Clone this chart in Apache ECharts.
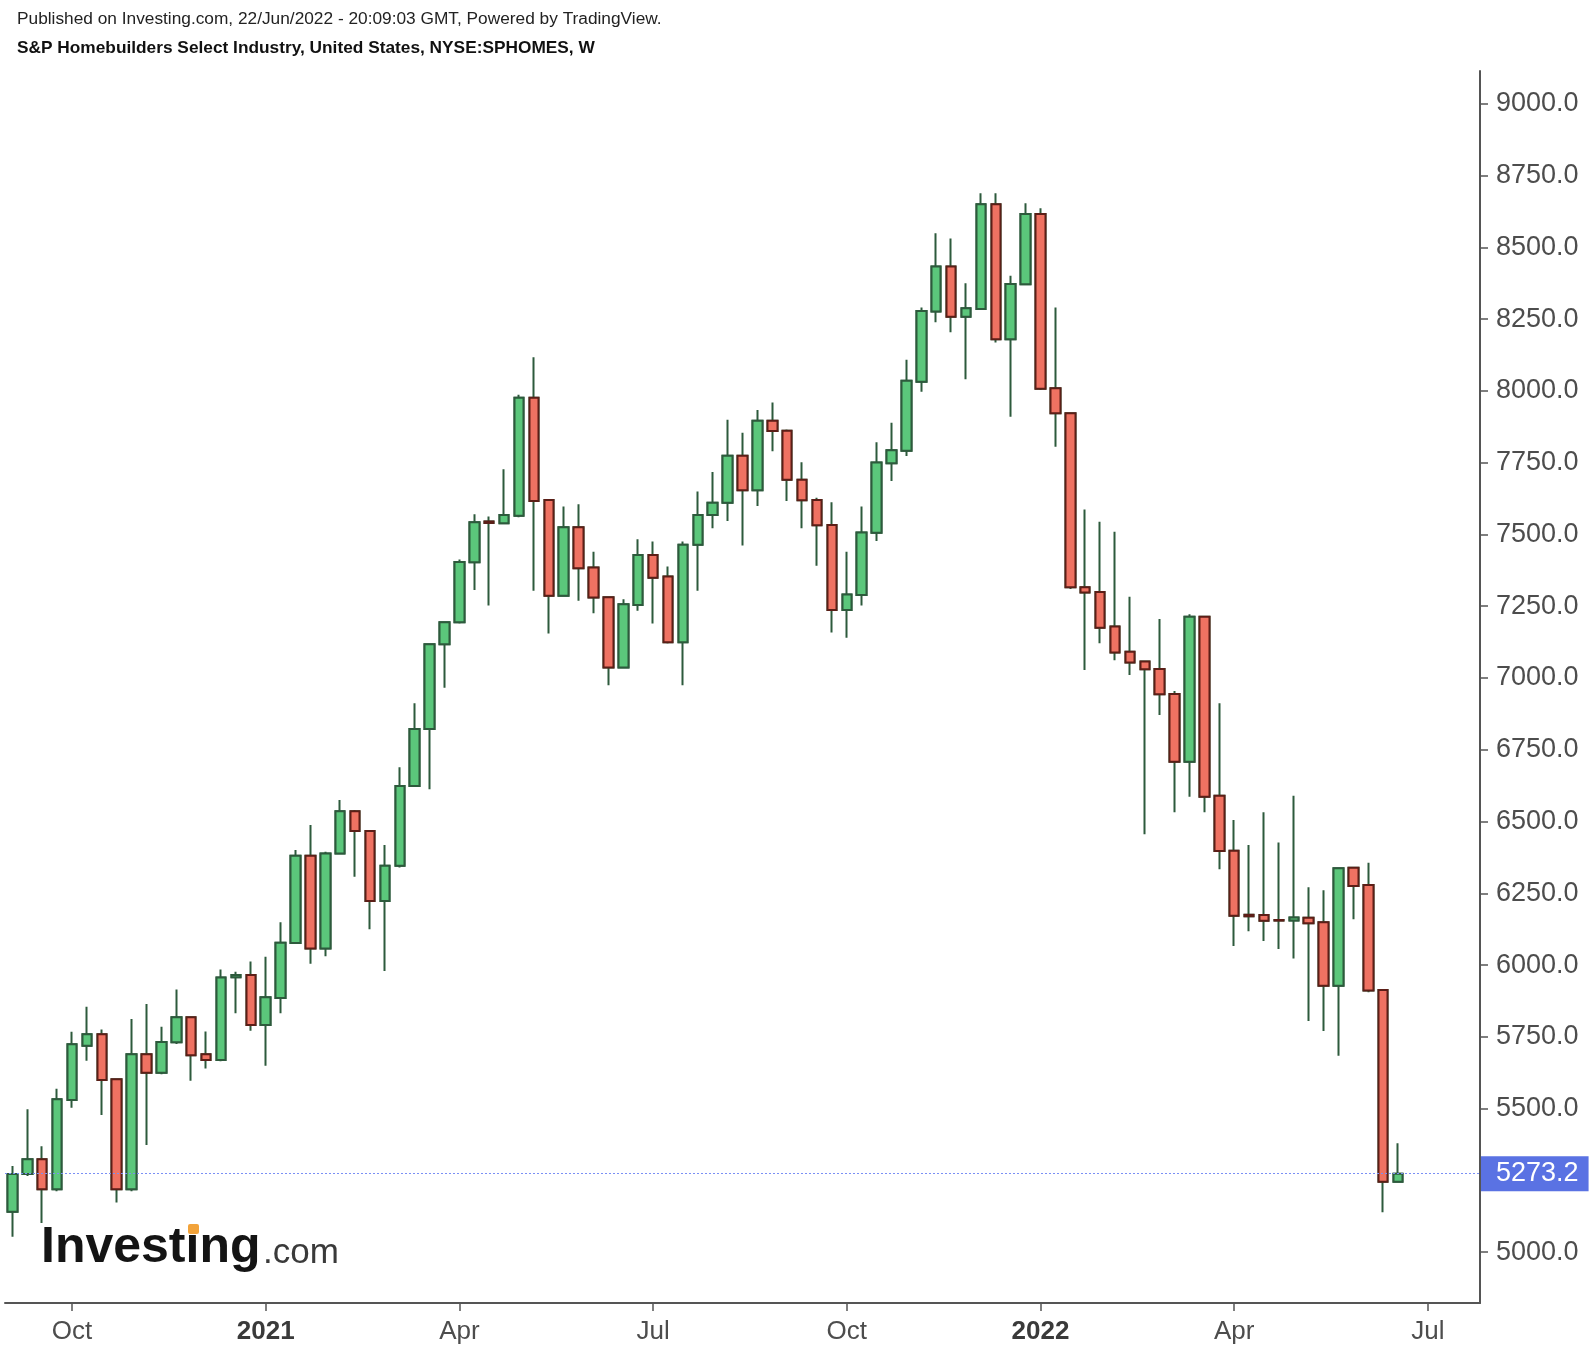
<!DOCTYPE html>
<html>
<head>
<meta charset="utf-8">
<script src="https://cdn.jsdelivr.net/npm/echarts@6/dist/echarts.min.js"></script>
<style>
html,body{margin:0;padding:0;background:#ffffff;}
#chart{width:1595px;height:1352px;}
</style>
</head>
<body>
<div id="chart"></div>
<script>
// Weekly bars (Monday dates); the last 5 entries are empty future weeks on the axis
const weeks = [
 '2020-09-07','2020-09-14','2020-09-21','2020-09-28','2020-10-05','2020-10-12','2020-10-19','2020-10-26',
 '2020-11-02','2020-11-09','2020-11-16','2020-11-23','2020-11-30','2020-12-07','2020-12-14','2020-12-21','2020-12-28',
 '2021-01-04','2021-01-11','2021-01-18','2021-01-25','2021-02-01','2021-02-08','2021-02-15','2021-02-22',
 '2021-03-01','2021-03-08','2021-03-15','2021-03-22','2021-03-29','2021-04-05','2021-04-12','2021-04-19','2021-04-26',
 '2021-05-03','2021-05-10','2021-05-17','2021-05-24','2021-05-31','2021-06-07','2021-06-14','2021-06-21','2021-06-28',
 '2021-07-05','2021-07-12','2021-07-19','2021-07-26','2021-08-02','2021-08-09','2021-08-16','2021-08-23','2021-08-30',
 '2021-09-06','2021-09-13','2021-09-20','2021-09-27','2021-10-04','2021-10-11','2021-10-18','2021-10-25',
 '2021-11-01','2021-11-08','2021-11-15','2021-11-22','2021-11-29','2021-12-06','2021-12-13','2021-12-20','2021-12-27',
 '2022-01-03','2022-01-10','2022-01-17','2022-01-24','2022-01-31','2022-02-07','2022-02-14','2022-02-21',
 '2022-02-28','2022-03-07','2022-03-14','2022-03-21','2022-03-28','2022-04-04','2022-04-11','2022-04-18','2022-04-25',
 '2022-05-02','2022-05-09','2022-05-16','2022-05-23','2022-05-30','2022-06-06','2022-06-13','2022-06-20',
 '2022-06-27','2022-07-04','2022-07-11','2022-07-18','2022-07-25'
];

const opens = [
 5141,5272,5324,5219,5530,5719,5759,5602,5219,5689,5625,5731,5818,5689,5669,5958,5965,5791,
 5885,6077,6381,6058,6389,6536,6467,6223,6346,6624,6822,7117,7194,7403,7545,7539,7565,7976,
 7620,7286,7525,7385,7281,7036,7254,7428,7353,7124,7464,7568,7610,7774,7654,7896,7861,7690,
 7620,7533,7237,7289,7506,7748,7791,8032,8276,8433,8258,8285,8650,8180,8371,8616,8009,7922,
 7316,7299,7179,7091,7057,7031,6944,6708,7213,6590,6398,6175,6174,6157,6155,6165,6149,5928,
 6339,6279,5913,5245
];
const closes = [
 5272,5324,5219,5533,5724,5759,5600,5219,5689,5625,5732,5818,5686,5669,5957,5965,5791,5888,
 6078,6381,6058,6389,6536,6467,6223,6346,6624,6822,7117,7194,7404,7542,7540,7568,7976,7616,
 7286,7525,7382,7280,7036,7257,7428,7349,7124,7464,7568,7610,7774,7654,7896,7860,7690,7619,
 7532,7237,7291,7507,7750,7793,8035,8278,8433,8258,8288,8650,8180,8372,8616,8007,7922,7316,
 7298,7175,7089,7054,7030,6943,6708,7213,6586,6397,6172,6170,6154,6155,6166,6146,5928,6337,
 6275,5911,5245,5273.2
];
const lows = [
 5054,5265,5102,5212,5503,5667,5478,5173,5212,5373,5620,5725,5597,5640,5665,5832,5771,5649,
 5832,6075,6005,6031,6385,6308,6125,5979,6340,6620,6612,6966,7190,7306,7252,7535,7560,7304,
 7155,7283,7269,7225,6975,7033,7234,7190,7120,6975,7304,7521,7547,7461,7599,7790,7616,7521,
 7391,7158,7140,7252,7477,7686,7773,7997,8239,8204,8040,8282,8168,7910,8368,8003,7805,7310,
 7028,7121,7062,7010,6456,6871,6532,6586,6532,6334,6066,6118,6084,6056,6023,5805,5770,5684,
 6160,5905,5139,5242
];
const highs = [
 5300,5498,5369,5569,5768,5855,5776,5605,5812,5864,5785,5915,5820,5769,5985,5977,6012,6029,
 6149,6401,6488,6395,6575,6540,6470,6418,6689,6912,7120,7197,7413,7570,7562,7727,7986,8117,
 7622,7597,7605,7440,7285,7274,7483,7475,7388,7475,7649,7717,7899,7854,7933,7959,7865,7751,
 7628,7612,7440,7597,7821,7889,8108,8290,8549,8531,8375,8688,8688,8401,8653,8636,8290,7925,
 7587,7544,7509,7283,7060,7205,6955,7222,7216,6912,6505,6418,6532,6427,6590,6271,6261,6340,
 6342,6356,5916,5379
];

const yTicks = [5000,5500,5750,6000,6250,6500,6750,7000,7250,7500,7750,8000,8250,8500,8750,9000];
const yMin = 4823, yMax = 9114;
const lastPrice = 5273.2;
const monthLabels = {1:'', 4:'Apr', 7:'Jul', 10:'Oct'};
const headerLine1 = 'Published on Investing.com, 22/Jun/2022 - 20:09:03 GMT, Powered by TradingView.';
const headerLine2 = 'S&P Homebuilders Select Industry, United States, NYSE:SPHOMES, W';

const GREEN = '#5bc77b', RED = '#ef7262';
const GREEN_EDGE = '#2d5a3c', RED_EDGE = '#5c1e17';
const FONT = "'Liberation Sans', Arial, sans-serif";

const wickData = opens.map((o, i) => [o, closes[i], lows[i], highs[i]]);
const bodyData = opens.map((o, i) => [o, closes[i], Math.min(o, closes[i]), Math.max(o, closes[i])]);

function isQuarterStart(index, value) {
  const d = value || weeks[index];
  const m = +d.slice(5, 7), day = +d.slice(8, 10);
  return (m % 3 === 1) && day <= 7;
}
function fmtX(value) {
  const m = +value.slice(5, 7);
  if (m === 1) return '{yr|' + value.slice(0, 4) + '}';
  return monthLabels[m] || '';
}

const chart = echarts.init(document.getElementById('chart'), null, {renderer: 'canvas'});
chart.setOption({
  animation: false,
  backgroundColor: '#ffffff',
  grid: {left: 5, right: 115, top: 71, bottom: 49, containLabel: false},
  xAxis: {
    type: 'category',
    data: weeks,
    boundaryGap: true,
    axisLine: {show: true, lineStyle: {color: '#555555', width: 2}},
    axisTick: {show: true, alignWithLabel: true, interval: isQuarterStart, length: 8, lineStyle: {color: '#555555', width: 1.5}},
    axisLabel: {
      interval: isQuarterStart, formatter: fmtX, fontSize: 26, color: '#4d4d4d', margin: 16, fontFamily: FONT,
      rich: {yr: {fontWeight: 'bold', fontSize: 26, color: '#3a3a3a', fontFamily: FONT}}
    },
    splitLine: {show: false}
  },
  yAxis: {
    type: 'value',
    position: 'right',
    min: yMin, max: yMax,
    axisLine: {show: true, lineStyle: {color: '#555555', width: 2}},
    axisTick: {show: true, customValues: yTicks, length: 8, lineStyle: {color: '#555555', width: 1.5}},
    axisLabel: {customValues: yTicks, formatter: v => Number(v).toFixed(1), fontSize: 27, color: '#4d4d4d', margin: 16, fontFamily: FONT, padding: [8, 0, 0, 0]},
    splitLine: {show: false}
  },
  graphic: [
    {type: 'text', left: 17, top: 11, style: {text: headerLine1, fontSize: 17.3, fontFamily: FONT, fill: '#222222'}},
    {type: 'text', left: 17, top: 40, style: {text: headerLine2, fontSize: 17.3, fontWeight: 'bold', fontFamily: FONT, fill: '#111111'}},
    {type: 'text', x: 41, y: 1248, z: 1, style: {text: 'Investing', fontSize: 50, fontWeight: 'bold', fontFamily: FONT, fill: '#141414', verticalAlign: 'middle'}},
    {type: 'text', x: 263, y: 1253, z: 1, style: {text: '.com', fontSize: 35, fontFamily: FONT, fill: '#3a3a3a', verticalAlign: 'middle'}},
    {type: 'rect', x: 188, y: 1224, z: 2, shape: {width: 11, height: 10, r: 2}, style: {fill: '#f2a33a'}}
  ],
  series: [
    {
      type: 'candlestick',
      name: 'wicks',
      data: wickData,
      barWidth: 10,
      silent: true,
      itemStyle: {color: GREEN, color0: RED, borderColor: GREEN_EDGE, borderColor0: GREEN_EDGE, borderWidth: 2},
      z: 2
    },
    {
      type: 'candlestick',
      name: 'SPHOMES',
      data: bodyData,
      barWidth: 10,
      silent: true,
      itemStyle: {color: GREEN, color0: RED, borderColor: GREEN_EDGE, borderColor0: RED_EDGE, borderWidth: 2},
      z: 3,
      markLine: {
        silent: true,
        symbol: ['none', 'none'],
        animation: false,
        data: [{yAxis: lastPrice}],
        lineStyle: {color: '#7a8ff5', type: [2, 2], width: 1, opacity: 1},
        label: {
          show: true, position: 'end', distance: 1, formatter: lastPrice.toFixed(1),
          color: '#ffffff', backgroundColor: '#5a72e3', fontSize: 27, fontFamily: FONT,
          padding: [7, 10, 1, 15]
        },
        emphasis: {disabled: true}
      }
    }
  ]
});
</script>
</body>
</html>
